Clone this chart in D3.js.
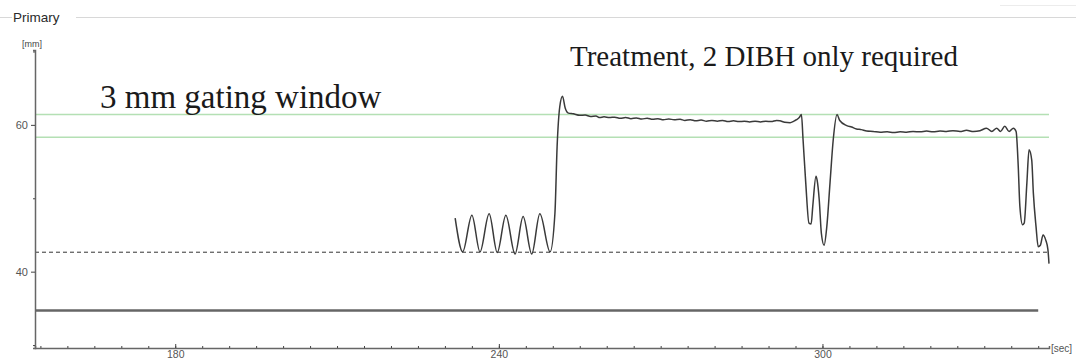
<!DOCTYPE html>
<html>
<head>
<meta charset="utf-8">
<script src="https://cdn.jsdelivr.net/npm/d3@7"></script>
<style>
  html, body { margin: 0; padding: 0; background: #fff; }
  svg { display: block; }
</style>
</head>
<body>
<svg id="chart" width="1076" height="360"></svg>
<script>
// Breath-hold trace: time [sec] and primary displacement [mm]
const timeSec = [
  // free breathing
  231.9, 233.3, 235.0, 236.5, 238.2, 239.7, 241.3, 243.0, 244.5, 246.1, 247.6, 249.5,
  // first breath hold
  250.4, 250.8, 251.3, 251.8, 252.3, 252.9, 253.8, 255.0, 256.0, 257.0, 258.0, 258.7,
  259.5, 260.5, 261.5, 262.5, 263.5, 264.5, 265.5, 266.5, 267.5, 268.5, 269.5, 270.5,
  271.5, 272.5, 273.6, 274.5, 275.5, 276.5, 277.5, 278.5, 279.5, 280.5, 281.5, 282.5,
  283.5, 284.5, 285.5, 286.5, 287.5, 288.5, 289.5, 290.5, 291.5, 292.1, 293.0, 294.0,
  294.7, 295.2, 295.7, 296.1,
  // release and re-hold
  296.4, 296.9, 297.5, 297.9, 298.2, 298.8, 299.0, 299.4, 299.8, 300.3, 300.8,
  301.4, 302.0, 302.7,
  // second breath hold
  303.2, 304.5, 305.4, 306.3, 307.2, 308.2, 309.4, 310.7, 312.0, 313.2, 314.4, 315.6,
  316.8, 318.1, 319.3, 320.5, 321.8, 323.0, 324.2, 325.5, 326.7, 328.0, 329.2, 330.4,
  331.4, 332.3, 333.0, 333.8, 334.6, 335.4, 335.9,
  // release
  336.3, 336.6, 337.1, 337.4, 337.9, 338.3, 338.8, 339.1, 339.6, 340.0, 340.4, 340.9,
  341.4, 341.8, 342.0
];
const depthMm = [
  // free breathing
  47.3, 42.7, 47.7, 42.7, 47.9, 42.6, 47.7, 42.4, 47.5, 42.4, 47.9, 42.7,
  // first breath hold
  48.0, 57.0, 62.5, 63.9, 62.3, 61.6, 61.5, 61.3, 61.35, 61.15, 61.2, 61.0,
  61.1, 61.0, 61.05, 60.9, 61.0, 60.85, 60.95, 60.8, 60.9, 60.75, 60.85, 60.7,
  60.8, 60.7, 60.75, 60.6, 60.7, 60.55, 60.65, 60.5, 60.6, 60.5, 60.6, 60.45,
  60.55, 60.45, 60.5, 60.4, 60.5, 60.4, 60.5, 60.45, 60.6, 60.55, 60.35, 60.3,
  60.5, 60.7, 61.0, 61.4,
  // release and re-hold
  58.0, 52.1, 46.6, 46.5, 48.9, 53.0, 52.5, 49.8, 45.2, 43.6, 46.1,
  52.1, 58.0, 61.4,
  // second breath hold
  60.6, 59.9, 59.7, 59.45, 59.35, 59.15, 59.1, 59.0, 59.05, 58.95, 59.05, 59.0,
  59.1, 59.05, 59.15, 59.05, 59.15, 59.1, 59.2, 59.1, 59.25, 59.1, 59.2, 59.55,
  59.1, 59.55, 59.1, 59.8, 59.1, 59.55, 59.1,
  // release
  54.3, 48.9, 46.4, 46.6, 52.1, 56.6, 55.2, 50.7, 46.1, 43.4, 43.6, 45.0,
  44.3, 43.0, 41.1
];

// Reference levels [mm]
const gatingWindow = [58.3, 61.4];
const baselineLevel = [42.65];
const floorLevel = [34.7];
const floorEnd = 340;

// Axis ticks
const timeMinorTicks = d3.range(155, 341, 5);
const timeMajorTicks = [180, 240, 300];
const depthMajorTicks = [40, 60];
const depthMinorTicks = [30, 50, 70];

const svg = d3.select("#chart");
const x = d3.scaleLinear().domain([154, 342]).range([35, 1049]);
const y = d3.scaleLinear().domain([29.6, 70.2]).range([348, 50]);

// Group-box header
svg.append("line").attr("x1", 0).attr("x2", 12).attr("y1", 17.5).attr("y2", 17.5)
  .attr("stroke", "#d8d8d8").attr("stroke-width", 1);
svg.append("line").attr("x1", 76).attr("x2", 1076).attr("y1", 17.5).attr("y2", 17.5)
  .attr("stroke", "#d8d8d8").attr("stroke-width", 1);
svg.append("line").attr("x1", 1000).attr("x2", 1076).attr("y1", 5.5).attr("y2", 5.5)
  .attr("stroke", "#ececec").attr("stroke-width", 1);
svg.append("text").attr("x", 13).attr("y", 22).text("Primary")
  .attr("font-family", "Liberation Sans, Arial, sans-serif").attr("font-size", 13.5)
  .attr("fill", "#2a2a2a");
svg.append("text").attr("x", 22).attr("y", 47).text("[mm]")
  .attr("font-family", "Liberation Sans, Arial, sans-serif").attr("font-size", 9)
  .attr("fill", "#444");

// Reference lines
const tMin = x.domain()[0], tMax = x.domain()[1];
svg.selectAll("line.window").data(gatingWindow).join("line")
  .attr("class", "window")
  .attr("x1", x(tMin)).attr("x2", x(tMax))
  .attr("y1", d => y(d)).attr("y2", d => y(d))
  .attr("stroke", "#b4e0b4").attr("stroke-width", 1.5);
svg.selectAll("line.baseline").data(baselineLevel).join("line")
  .attr("class", "baseline")
  .attr("x1", x(tMin)).attr("x2", x(tMax))
  .attr("y1", d => y(d)).attr("y2", d => y(d))
  .attr("stroke", "#333").attr("stroke-width", 1).attr("stroke-dasharray", "4,3");
svg.selectAll("line.floor").data(floorLevel).join("line")
  .attr("class", "floor")
  .attr("x1", x(tMin)).attr("x2", x(floorEnd))
  .attr("y1", d => y(d)).attr("y2", d => y(d))
  .attr("stroke", "#666").attr("stroke-width", 2.5);

// Axes
const axisFont = "Liberation Sans, Arial, sans-serif";
function styleAxis(g) {
  g.select(".domain").attr("stroke", "#666").attr("stroke-width", 1.5);
  g.selectAll(".tick line").attr("stroke", "#444");
  g.selectAll("text").attr("font-family", axisFont).attr("font-size", 10.5).attr("fill", "#555");
}
svg.append("g").attr("transform", "translate(0,348)")
  .call(d3.axisBottom(x).tickValues(timeMinorTicks).tickSize(-2).tickFormat(""))
  .call(styleAxis);
svg.append("g").attr("transform", "translate(0,348)")
  .call(d3.axisBottom(x).tickValues(timeMajorTicks).tickSizeInner(-4).tickSizeOuter(0)
    .tickPadding(3).tickFormat(d3.format("d")))
  .call(styleAxis)
  .call(g => g.select(".domain").remove());
svg.append("text").attr("x", 1051).attr("y", 351.5).text("[sec]")
  .attr("font-family", axisFont).attr("font-size", 10).attr("fill", "#555");

svg.append("g").attr("transform", "translate(35,0)")
  .call(d3.axisLeft(y).tickValues(depthMinorTicks).tickSize(2).tickFormat(""))
  .call(styleAxis);
svg.append("g").attr("transform", "translate(35,0)")
  .call(d3.axisLeft(y).tickValues(depthMajorTicks).tickSizeInner(4).tickSizeOuter(0)
    .tickPadding(3).tickFormat(d3.format("d")))
  .call(styleAxis)
  .call(g => g.select(".domain").remove())
  .call(g => g.selectAll("text").attr("font-size", 11));

// Trace
const trace = d3.zip(timeSec, depthMm);
svg.append("path").datum(trace)
  .attr("fill", "none").attr("stroke", "#3a3a3a").attr("stroke-width", 1.5)
  .attr("stroke-linejoin", "round")
  .attr("d", d3.line().curve(d3.curveMonotoneX).x(d => x(d[0])).y(d => y(d[1])));

// Annotations
svg.append("text").attr("x", 100).attr("y", 108).text("3 mm gating window")
  .attr("font-family", "Liberation Serif, Times New Roman, serif").attr("font-size", 33)
  .attr("fill", "#1a1a1a");
svg.append("text").attr("x", 570).attr("y", 66).text("Treatment, 2 DIBH only required")
  .attr("font-family", "Liberation Serif, Times New Roman, serif").attr("font-size", 29)
  .attr("fill", "#1a1a1a");
</script>
</body>
</html>
